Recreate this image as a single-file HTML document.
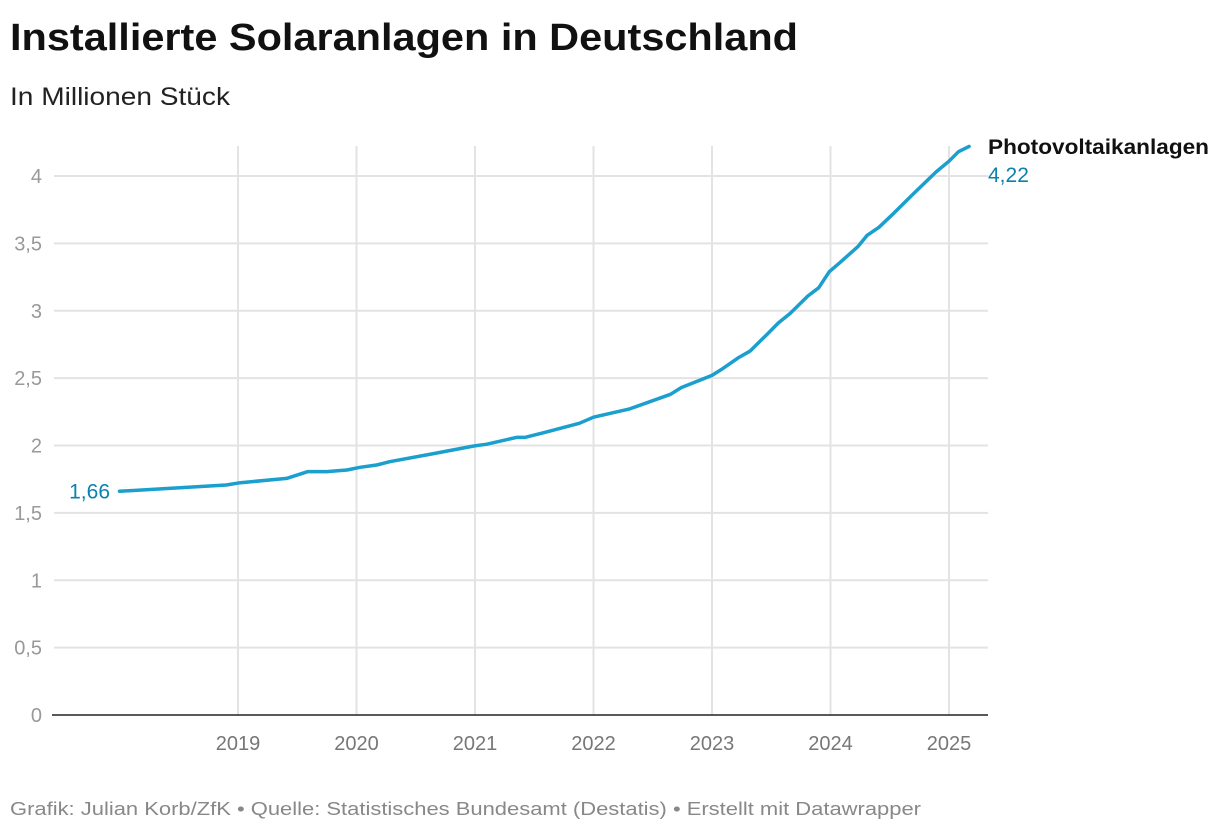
<!DOCTYPE html>
<html><head><meta charset="utf-8"><style>
html,body{margin:0;padding:0;background:#fff;}
svg{display:block;font-family:"Liberation Sans",sans-serif;}
</style></head><body>
<svg id="chart" width="1220" height="832" viewBox="0 0 1220 832">
<text x="10" y="50" font-size="38" font-weight="bold" fill="#111" textLength="788" lengthAdjust="spacingAndGlyphs">Installierte Solaranlagen in Deutschland</text>
<text x="10" y="105" font-size="25" fill="#222" textLength="220" lengthAdjust="spacingAndGlyphs">In Millionen Stück</text>
<g id="grid"></g>
<g id="yticks"></g>
<g id="xticks"></g>
<path id="line" fill="none" stroke="#1a9fce" stroke-width="3.5" stroke-linejoin="round" stroke-linecap="round"></path>
<text id="startlabel" x="110" y="498" font-size="21" fill="#0b82ad" text-anchor="end"></text>
<text x="988" y="154" font-size="21" font-weight="bold" fill="#111" textLength="221" lengthAdjust="spacingAndGlyphs">Photovoltaikanlagen</text>
<text id="endlabel" x="988" y="182" font-size="21" fill="#0b82ad"></text>
<text x="10" y="815" font-size="18" fill="#888" textLength="911" lengthAdjust="spacingAndGlyphs">Grafik: Julian Korb/ZfK • Quelle: Statistisches Bundesamt (Destatis) • Erstellt mit Datawrapper</text>
</svg>
<script>
const dates = [2018.0,2018.9,2019.02,2019.41,2019.59,2019.75,2019.92,2020.03,2020.17,2020.28,2020.65,2020.99,2021.1,2021.35,2021.42,2021.58,2021.88,2022.0,2022.3,2022.65,2022.74,2023.0,2023.08,2023.22,2023.32,2023.47,2023.56,2023.66,2023.81,2023.9,2023.99,2024.07,2024.23,2024.31,2024.41,2024.53,2024.69,2024.89,2025.0,2025.08,2025.17];
const values = [1.66,1.707,1.724,1.756,1.806,1.806,1.818,1.838,1.855,1.88,1.94,1.996,2.01,2.06,2.06,2.095,2.165,2.21,2.27,2.38,2.43,2.52,2.565,2.65,2.70,2.83,2.91,2.98,3.11,3.17,3.29,3.35,3.475,3.56,3.62,3.72,3.86,4.03,4.11,4.18,4.22];
const yTicks = [0,0.5,1,1.5,2,2.5,3,3.5,4];
const yTickLabels = ["0","0,5","1","1,5","2","2,5","3","3,5","4"];
const xTicks = [2019,2020,2021,2022,2023,2024,2025];

const NS="http://www.w3.org/2000/svg";
function xs(d){return 238+(d-2019)*118.5;}
function ys(v){return 715-v*134.75;}
const grid=document.getElementById('grid'),yt=document.getElementById('yticks'),xt=document.getElementById('xticks');
xTicks.forEach(t=>{
  const l=document.createElementNS(NS,'line');
  l.setAttribute('x1',xs(t));l.setAttribute('x2',xs(t));l.setAttribute('y1',146);l.setAttribute('y2',715);
  l.setAttribute('stroke','#e3e3e3');l.setAttribute('stroke-width','2');
  
  
  grid.appendChild(l);
  const tx=document.createElementNS(NS,'text');
  tx.setAttribute('x',xs(t));tx.setAttribute('y',750);tx.setAttribute('text-anchor','middle');
  tx.setAttribute('font-size','20');tx.setAttribute('fill','#777');tx.textContent=t;
  
  
  xt.appendChild(tx);
});
yTicks.forEach((t,i)=>{
  if(t>0){
    const l=document.createElementNS(NS,'line');
    l.setAttribute('x1',54);l.setAttribute('x2',988);l.setAttribute('y1',ys(t));l.setAttribute('y2',ys(t));
    l.setAttribute('stroke','#e3e3e3');l.setAttribute('stroke-width','2');
    
    
    grid.appendChild(l);
  }
  const tx=document.createElementNS(NS,'text');
  tx.setAttribute('x',42);tx.setAttribute('y',ys(t)+7);tx.setAttribute('text-anchor','end');
  tx.setAttribute('font-size','20');tx.setAttribute('fill','#999');tx.textContent=yTickLabels[i];
  
  
  yt.appendChild(tx);
});
const base=document.createElementNS(NS,'line');
base.setAttribute('x1',52);base.setAttribute('x2',988);base.setAttribute('y1',715);base.setAttribute('y2',715);
base.setAttribute('stroke','#222');base.setAttribute('stroke-width','1.5');


grid.appendChild(base);
document.getElementById('line').setAttribute('d',dates.map((d,i)=>(i?'L':'M')+xs(d).toFixed(1)+' '+ys(values[i]).toFixed(1)).join(' '));
const fmt=v=>v.toFixed(2).replace('.',',');
const sl=document.getElementById('startlabel');sl.textContent=fmt(values[0]);sl.setAttribute('y',ys(values[0])+7);
const el=document.getElementById('endlabel');el.textContent=fmt(values[values.length-1]);
</script>
</body></html>
